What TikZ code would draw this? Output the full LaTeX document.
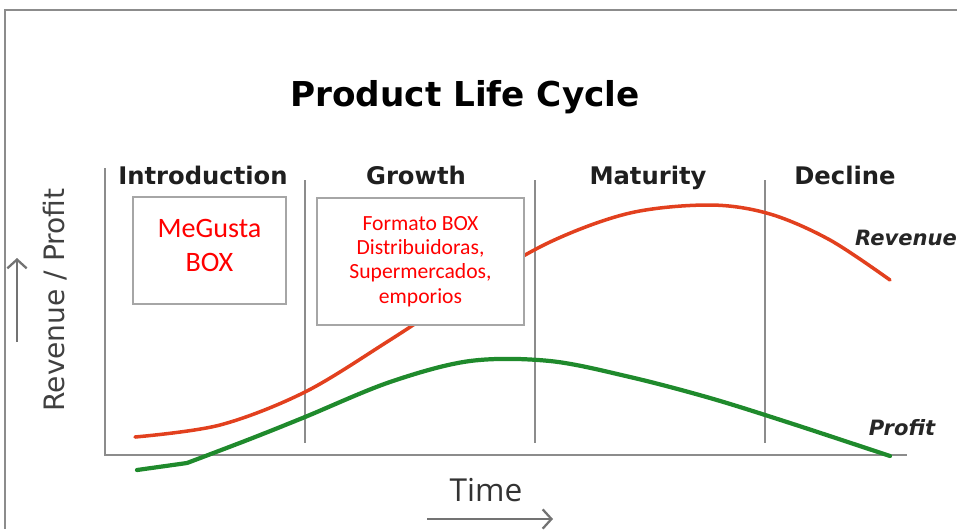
\documentclass[tikz,border=0pt]{standalone}
\usepackage{fontspec}
\setmainfont{Carlito}
\newfontfamily\phasefont{DejaVu Sans}
\newfontfamily\titlefont{Open Sans}
\usetikzlibrary{arrows.meta,positioning}
\definecolor{revred}{HTML}{E2401E}
\definecolor{profgreen}{HTML}{1F8A2C}
\definecolor{gridgray}{HTML}{8C8C8C}
\definecolor{boxgray}{HTML}{A6A6A6}
\tikzset{
  >={Straight Barb[length=5pt,width=11pt]},
  phase/.style={
    anchor=base,
    font=\phasefont\bfseries\fontsize{13.8}{16}\selectfont,
    text=black!88},
  note/.style={
    draw=boxgray, line width=1.4pt,
    fill=white,
    inner sep=0pt},
  notetext/.style={
    text=red,
    align=center,
    inner sep=0pt},
  curvelabel/.style={
    font=\phasefont\bfseries\itshape\fontsize{12}{14}\selectfont,
    text=black!85},
}

\begin{document}
\begin{tikzpicture}[
    x=0.02cm, y=-0.02cm,
    axis/.style={gridgray, line width=1.3pt},
    phase line/.style={gridgray, line width=1pt},
    revenue/.style={revred, line width=2pt, line cap=round},
    profit/.style={profgreen, line width=2.4pt, line cap=round},
    pointer/.style={black!55, line width=1.3pt, ->}
    ]
    \useasboundingbox (0,0) rectangle (957,529);

    %frame
    \draw[gridgray, line width=1.1pt] (957,10) -- (5,10) -- (5,529);

    %title
    \node[font=\phasefont\bfseries\fontsize{19.5}{23}\selectfont] (title) at (465,97)
        {Product Life Cycle};

    %axis
    \draw[axis] (105,168) -- (105,455) -- (907,455);
    \foreach \x in {305,535,765}
        \draw[phase line] (\x,180) -- (\x,443);

    %phase names
    \node[phase] (intro) at (203,184) {Introduction};
    \node[phase] (growth) at (416,184) {Growth};
    \node[phase] (maturity) at (648,184) {Maturity};
    \node[phase] (decline) at (845,184) {Decline};

    %curves
    \draw[revenue] plot[smooth, tension=0.55] coordinates {(135,437) (220,425)
        (305,392) (390,340) (470,288) (550,242) (630,213) (710,205) (770,214)
        (830,240) (890,280)};
    \draw[profit] (137,470) -- (187,463) plot[smooth, tension=0.55] coordinates {(187,463)
        (250,439) (305,417) (390,382) (470,361) (550,361) (630,377) (710,398)
        (790,423) (890,456)};

    %curve names
    \node[curvelabel] (revlabel) at (906,238) {Revenue};
    \node[curvelabel] (proflabel) at (902,428) {Profit};

    %notes
    \node[note, minimum width=3.06cm, minimum height=2.14cm] (megusta) at (209.5,250.5) {};
    \node[notetext, font=\fontsize{16}{19.3}\selectfont] (megustatext)
        at ([yshift=2.8pt]megusta.center) {MeGusta\\BOX};
    \node[note, minimum width=4.14cm, minimum height=2.54cm] (formato) at (420.5,261.5) {};
    \node[notetext, font=\fontsize{12.3}{13.8}\selectfont] (formatotext)
        at (formato.center) {Formato BOX\\Distribuidoras,\\Supermercados,\\emporios};

    %axis names
    \node[rotate=90, text=black!75,
        font=\phasefont\fontsize{16}{19}\selectfont] (ylabel) at (55,300)
        {Revenue / Profit};
    \node[text=black!80, font=\titlefont\fontsize{18}{21}\selectfont]
        (xlabel) at (486,490) {Time};
    \coordinate (yfrom) at (17,342);
    \coordinate (yto) at (17,258);
    \coordinate (xfrom) at (427,519);
    \coordinate (xto) at (553,519);
    \draw[pointer] (yfrom) -- (yto);
    \draw[pointer] (xfrom) -- (xto);
\end{tikzpicture}
\end{document}
